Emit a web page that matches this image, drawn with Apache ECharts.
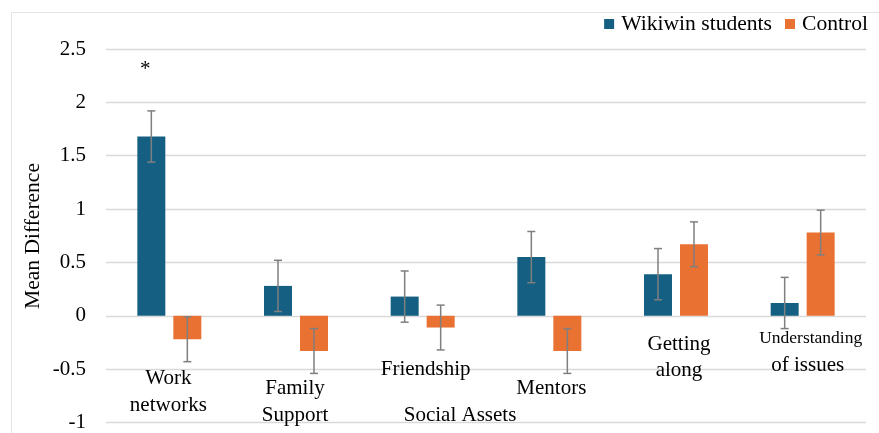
<!DOCTYPE html>
<html>
<head>
<meta charset="utf-8">
<script src="https://cdn.jsdelivr.net/npm/echarts@6/dist/echarts.min.js"></script>
<style>
  html, body { margin: 0; padding: 0; background: #fff; }
  #chart { width: 879px; height: 433px; }
</style>
</head>
<body>
<div id="chart"></div>
<script>
// Social asset categories (label lines as printed under each group)
const categories = ['Work networks', 'Family Support', 'Friendship', 'Mentors', 'Getting along', 'Understanding of issues'];
const categoryLines = [['Work', 'networks'], ['Family', 'Support'], ['Friendship'], ['Mentors'], ['Getting', 'along'], ['Understanding', 'of issues']];

// Mean difference per group
const wikiwin = [1.68, 0.28, 0.18, 0.55, 0.39, 0.12];
const control = [-0.22, -0.33, -0.11, -0.33, 0.67, 0.78];

// Error bar half-widths
const wikiwinErr = [0.24, 0.24, 0.24, 0.24, 0.24, 0.24];
const controlErr = [0.21, 0.21, 0.21, 0.21, 0.21, 0.21];

// Significance markers above the Wikiwin bars
const significance = ['*', '', '', '', '', ''];

const seriesNames = ['Wikiwin students', 'Control'];
const xAxisTitle = 'Social Assets';
const yAxisTitle = 'Mean Difference';

// ---- layout / style ----
const FONT = 'Liberation Serif, Tinos, DejaVu Serif, serif';
const BLUE = '#156082';
const ORANGE = '#E97132';
const BAR_W = 28;
const BAR_GAP_PX = 8;
const HALF_OFFSET = (BAR_W + BAR_GAP_PX) / 2;

// Category label placement: per line, [value-axis y, x nudge px, font size]
const labelLayout = [
  [[-0.586, -1, 21], [-0.837, -1, 21]],
  [[-0.679, -1, 21], [-0.930, -1, 21]],
  [[-0.502, 3, 21]],
  [[-0.684, 2, 21]],
  [[-0.265, 3, 21], [-0.516, 3, 21]],
  [[-0.214, 8, 17.5], [-0.465, 5, 21]]
];

const chart = echarts.init(document.getElementById('chart'), null, { renderer: 'canvas' });

function errorSeries(name, values, errs, dir, color) {
  return {
    name: name + ' error',
    type: 'custom',
    z: 5,
    silent: true,
    data: values.map((v, i) => [i, v, errs[i]]),
    renderItem: function (params, api) {
      const idx = api.value(0);
      const v = api.value(1);
      const e = api.value(2);
      const top = api.coord([idx, v + e]);
      const bot = api.coord([idx, v - e]);
      const x = top[0] + dir * HALF_OFFSET;
      const cap = 4;
      const style = { stroke: color, lineWidth: 1.5 };
      return {
        type: 'group',
        children: [
          { type: 'line', shape: { x1: x, y1: top[1], x2: x, y2: bot[1] }, style: style },
          { type: 'line', shape: { x1: x - cap, y1: top[1], x2: x + cap, y2: top[1] }, style: style },
          { type: 'line', shape: { x1: x - cap, y1: bot[1], x2: x + cap, y2: bot[1] }, style: style }
        ]
      };
    }
  };
}

const option = {
  animation: false,
  backgroundColor: '#ffffff',
  textStyle: { fontFamily: FONT },
  grid: { left: 106, right: 13, top: 49, bottom: 8, containLabel: false },
  legend: {
    data: seriesNames,
    right: 11,
    top: 13,
    padding: 0,
    icon: 'rect',
    itemWidth: 10,
    itemHeight: 10,
    itemGap: 13,
    textStyle: { fontFamily: FONT, fontSize: 21.6, color: '#000', padding: [0, 0, 0, 2] }
  },
  xAxis: {
    type: 'category',
    data: categories,
    axisLine: { show: false },
    axisTick: { show: false },
    axisLabel: { show: false },
    splitLine: { show: false }
  },
  yAxis: {
    type: 'value',
    min: -1,
    max: 2.5,
    interval: 0.5,
    axisLine: { show: false },
    axisTick: { show: false },
    axisLabel: { fontFamily: FONT, fontSize: 21, color: '#000', margin: 20 },
    splitLine: { lineStyle: { color: '#d9d9d9', width: 1.3 } }
  },
  series: [
    {
      name: seriesNames[0],
      type: 'bar',
      data: wikiwin,
      barWidth: BAR_W,
      barGap: (BAR_GAP_PX / BAR_W * 100) + '%',
      itemStyle: { color: BLUE }
    },
    {
      name: seriesNames[1],
      type: 'bar',
      data: control,
      barWidth: BAR_W,
      itemStyle: { color: ORANGE }
    },
    errorSeries(seriesNames[0], wikiwin, wikiwinErr, -1, '#7f7f7f'),
    errorSeries(seriesNames[1], control, controlErr, 1, '#7f7f7f')
  ]
};

chart.setOption(option);

// Text placed through the chart's own coordinate system
const graphics = [];

// outer frame
graphics.push({
  type: 'rect', silent: true, z: -1,
  shape: { x: 11.5, y: 12.5, width: 900, height: 500 },
  style: { fill: 'none', stroke: '#e3e3e3', lineWidth: 1 }
});

categoryLines.forEach((lines, i) => {
  lines.forEach((txt, j) => {
    const [yVal, dx, fs] = labelLayout[i][j];
    const p = chart.convertToPixel({ gridIndex: 0 }, [i, yVal]);
    graphics.push({
      type: 'text', silent: true, z: 10,
      x: p[0] + dx, y: p[1],
      style: { text: txt, fontFamily: FONT, fontSize: fs, fill: '#000', align: 'center', verticalAlign: 'middle' }
    });
  });
});

// significance markers
significance.forEach((s, i) => {
  if (!s) return;
  const p = chart.convertToPixel({ gridIndex: 0 }, [i, wikiwin[i] + wikiwinErr[i] + 0.39]);
  graphics.push({
    type: 'text', silent: true, z: 10,
    x: p[0] - HALF_OFFSET - 6, y: p[1],
    style: { text: s, fontFamily: FONT, fontSize: 21, fill: '#000', align: 'center', verticalAlign: 'middle' }
  });
});

// x-axis title
const xt = chart.convertToPixel({ gridIndex: 0 }, [2, -0.935]);
const cw = chart.convertToPixel({ gridIndex: 0 }, [3, 0])[0] - chart.convertToPixel({ gridIndex: 0 }, [2, 0])[0];
graphics.push({
  type: 'text', silent: true, z: 10,
  x: xt[0] + cw * 0.295, y: xt[1],
  style: { text: xAxisTitle, fontFamily: FONT, fontSize: 21, fill: '#000', align: 'center', verticalAlign: 'middle' }
});

// y-axis title
graphics.push({
  type: 'text', silent: true, z: 10,
  x: 33, y: 236, rotation: Math.PI / 2,
  style: { text: yAxisTitle, fontFamily: FONT, fontSize: 21.5, fill: '#000', align: 'center', verticalAlign: 'middle' }
});

chart.setOption({ graphic: graphics });
</script>
</body>
</html>
